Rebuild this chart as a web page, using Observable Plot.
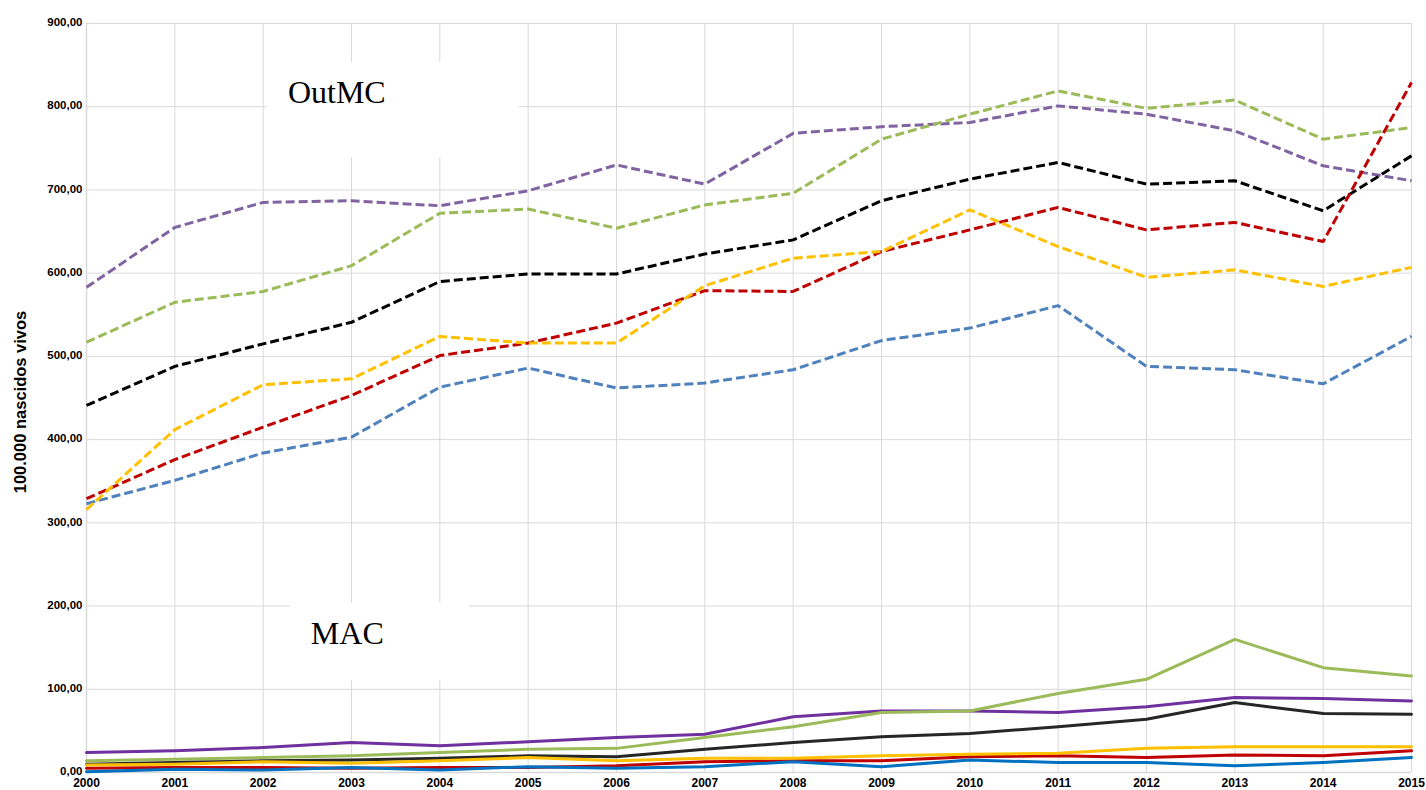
<!DOCTYPE html>
<html>
<head>
<meta charset="utf-8">
<script src="https://cdn.jsdelivr.net/npm/d3@7"></script>
<script src="https://cdn.jsdelivr.net/npm/@observablehq/plot@0.6"></script>
<style>
  html, body { margin: 0; padding: 0; background: #fff; }
</style>
</head>
<body>
<div id="chart"></div>
<script>
// ---- data ----
const years = [2000,2001,2002,2003,2004,2005,2006,2007,2008,2009,2010,2011,2012,2013,2014,2015];
const yTicks = [0,100,200,300,400,500,600,700,800,900];

// OutMC (dashed)
const outPurple = [583,655,685,687,681,699,730,707,768,776,781,801,791,771,729,711];
const outGreen  = [517,565,578,609,672,677,654,682,696,761,791,819,798,808,761,775];
const outBlack  = [441,488,515,541,590,599,599,623,640,687,713,733,707,711,675,741];
const outBlue   = [323,351,384,403,463,486,462,468,484,519,534,561,488,484,467,524];
const outRed    = [329,376,415,453,501,516,540,579,578,626,652,679,652,661,638,829];
const outOrange = [316,412,466,473,524,516,516,585,618,626,676,632,595,604,584,607];

// MAC (solid)
const macPurple = [24,26,30,36,32,37,42,46,67,74,74,72,79,90,89,86];
const macGreen  = [14,16,18,20,24,28,29,42,55,72,74,95,112,160,126,116];
const macBlack  = [10,12,14,15,17,20,19,28,36,43,47,55,64,84,71,70];
const macRed    = [5,6,6,5,6,6,8,13,14,14,19,20,18,21,20,26];
const macOrange = [9,10,13,11,14,18,14,17,17,20,22,23,29,31,31,31];
const macBlue   = [1,4,3,6,3,7,5,7,13,7,15,12,12,8,12,18];

const dashedSeries = [
  {name: "outPurple", values: outPurple, color: "#8064A2"},
  {name: "outGreen",  values: outGreen,  color: "#9BBB59"},
  {name: "outBlack",  values: outBlack,  color: "#000000"},
  {name: "outBlue",   values: outBlue,   color: "#4F81BD"},
  {name: "outRed",    values: outRed,    color: "#C00000"},
  {name: "outOrange", values: outOrange, color: "#FFC000"}
];
const solidSeries = [
  {name: "macPurple", values: macPurple, color: "#7030A0"},
  {name: "macGreen",  values: macGreen,  color: "#9BBB59"},
  {name: "macBlack",  values: macBlack,  color: "#262626"},
  {name: "macRed",    values: macRed,    color: "#C00000"},
  {name: "macOrange", values: macOrange, color: "#FFC000"},
  {name: "macBlue",   values: macBlue,   color: "#0070C0"}
];

// group annotations (white boxes with serif labels), in data units
const groupLabels = [
  {text: "OutMC", x1: 2002.05, x2: 2004.9,  y1: 739, y2: 853, tx: 2002.28, ty: 804},
  {text: "MAC",   x1: 2002.31, x2: 2004.34, y1: 110, y2: 203, tx: 2002.54, ty: 155}
];

const yTitle = "100.000 nascidos vivos";

// ---- build rows ----
const toRows = (list) => list.flatMap(s => s.values.map((v, i) => ({series: s.name, year: years[i], value: v, color: s.color})));
const dashedRows = toRows(dashedSeries);
const solidRows = toRows(solidSeries);

const gridColor = "#d9d9d9";
const fmt = d => d3.format(".2f")(d).replace(".", ",");

const chart = Plot.plot({
  width: 1426,
  height: 790,
  marginLeft: 86,
  marginRight: 15,
  marginTop: 23,
  marginBottom: 18,
  style: {fontFamily: "'Liberation Sans', Arial, sans-serif", background: "#fff", color: "#000"},
  x: {domain: [2000, 2015]},
  y: {domain: [0, 900]},
  marks: [
    Plot.gridX(years, {stroke: gridColor, strokeOpacity: 1, strokeWidth: 1}),
    Plot.gridY(yTicks, {stroke: gridColor, strokeOpacity: 1, strokeWidth: 1}),
    Plot.ruleX([2000], {stroke: gridColor, strokeWidth: 1.5}),
    Plot.ruleY([0], {stroke: gridColor, strokeWidth: 1.5}),
    Plot.rect(groupLabels, {x1: "x1", x2: "x2", y1: "y1", y2: "y2", fill: "#fff"}),
    Plot.text(groupLabels, {x: "tx", y: "ty", text: "text", fontFamily: "'Liberation Serif', 'Times New Roman', serif", fontSize: 32, textAnchor: "start", lineAnchor: "bottom", fill: "#000"}),
    Plot.line(solidRows, {x: "year", y: "value", z: "series", stroke: "color", strokeWidth: 3, curve: "linear"}),
    Plot.line(dashedRows, {x: "year", y: "value", z: "series", stroke: "color", strokeWidth: 3, strokeDasharray: "9,4", strokeLinecap: "butt", curve: "linear"}),
    Plot.axisX({ticks: years, tickFormat: d => String(d), tickSize: 0, tickPadding: 6, fontSize: 12, fontWeight: "bold", fill: "#000", label: null}),
    Plot.axisY({ticks: yTicks, tickFormat: fmt, tickSize: 0, tickPadding: 4, dy: -1, fontSize: 11.5, fontWeight: "bold", fill: "#000", label: null}),
    Plot.text([yTitle], {frameAnchor: "left", textAnchor: "middle", lineAnchor: "middle", rotate: -90, dx: -66, dy: 4, fontSize: 16.5, fontWeight: "bold", fill: "#000", text: d => d})
  ]
});
document.getElementById("chart").appendChild(chart);
</script>
</body>
</html>
